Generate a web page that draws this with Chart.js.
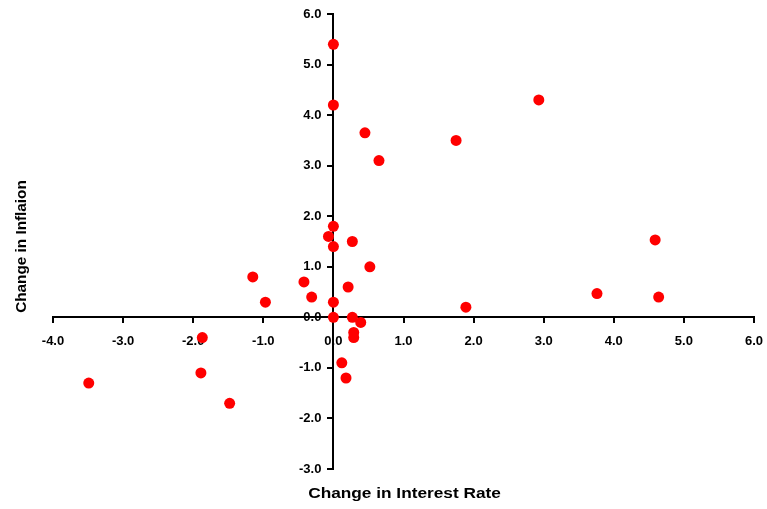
<!DOCTYPE html>
<html>
<head>
<meta charset="utf-8">
<script src="https://cdn.jsdelivr.net/npm/chart.js@4.4.1/dist/chart.umd.min.js"></script>
<style>
  html, body { margin: 0; padding: 0; background: #fff; }
  #wrap { width: 767px; height: 509px; position: relative; }
</style>
</head>
<body>
<div id="wrap"><canvas id="scatterChart"></canvas></div>
<script>
// change in interest rate (x) and change in inflation (y)
const rateChange = [0, 0, 0.45, 0.65, 0, -0.07, 0, 0.27, 2.93, 1.75, 4.59,
    -1.15, -0.42, -0.31, -0.97, 0, 0.52, 0.21, 0, 0.27, 0.39, 0.29, 0.29,
    -1.87, 0.12, 0.18, -3.49, -1.89, -1.48, 1.89, 3.76, 4.64];
const inflationChange = [5.4, 4.2, 3.65, 3.1, 1.8, 1.6, 1.4, 1.5, 4.3, 3.5, 1.53,
    0.8, 0.7, 0.4, 0.3, 0.3, 1.0, 0.6, 0.0, 0.0, -0.1, -0.3, -0.4,
    -0.4, -0.9, -1.2, -1.3, -1.1, -1.7, 0.2, 0.47, 0.4];
const xTitle = 'Change in Interest Rate';
const yTitle = 'Change in Inflaion';

const points = rateChange.map(function (x, i) {
    return { x: x, y: inflationChange[i] };
});

const FONT = '"Liberation Sans", Arial, sans-serif';

// titles at the canvas edges, and the y tick labels left of the crossing axis
// (Chart.js puts them right on the axis line when the axis sits at x = 0)
const axisText = {
    id: 'axisText',
    afterDraw: function (chart) {
        const ctx = chart.ctx;
        const area = chart.chartArea;
        const xScale = chart.scales.x;
        const yScale = chart.scales.y;
        ctx.save();
        ctx.fillStyle = '#000';

        ctx.font = 'bold 13px ' + FONT;
        ctx.textAlign = 'right';
        ctx.textBaseline = 'middle';
        const axisX = xScale.getPixelForValue(0);
        yScale.ticks.forEach(function (tick) {
            ctx.fillText(tick.value.toFixed(1), axisX - 12, yScale.getPixelForValue(tick.value));
        });

        ctx.font = 'bold 15px ' + FONT;
        ctx.textAlign = 'center';

        ctx.save();
        ctx.translate((area.left + area.right) / 2 + 1, 494);
        ctx.scale(1.15, 1);
        ctx.fillText(xTitle, 0, 0);
        ctx.restore();

        ctx.save();
        ctx.translate(22, (area.top + area.bottom) / 2 + 5);
        ctx.rotate(-Math.PI / 2);
        ctx.scale(1.02, 1);
        ctx.fillText(yTitle, 0, 0);
        ctx.restore();

        ctx.restore();
    }
};

const ctx = document.getElementById('scatterChart').getContext('2d');
new Chart(ctx, {
    type: 'scatter',
    data: {
        datasets: [{
            data: points,
            backgroundColor: '#ff0000',
            borderWidth: 0,
            pointRadius: 5.5,
            pointHoverRadius: 5.5
        }]
    },
    options: {
        responsive: true,
        maintainAspectRatio: false,
        animation: false,
        layout: { padding: { left: 53, right: 13, top: 14, bottom: 40 } },
        plugins: {
            legend: { display: false },
            tooltip: { enabled: false }
        },
        scales: {
            x: {
                type: 'linear',
                position: { y: 0 },
                min: -4,
                max: 6,
                // the label padding would otherwise squeeze the plot on the right
                afterFit: function (scale) {
                    scale.paddingLeft = 0;
                    scale.paddingRight = 0;
                },
                border: { display: true, color: '#000', width: 2 },
                grid: { display: true, drawOnChartArea: false, drawTicks: true, tickLength: 5, color: '#000', lineWidth: 2 },
                ticks: {
                    stepSize: 1,
                    padding: 11,
                    color: '#000',
                    font: { family: FONT, size: 13, weight: 'bold' },
                    callback: function (value) { return value.toFixed(1); }
                }
            },
            y: {
                type: 'linear',
                position: { x: 0 },
                min: -3,
                max: 6,
                border: { display: true, color: '#000', width: 2 },
                grid: { display: true, drawOnChartArea: false, drawTicks: true, tickLength: 5, color: '#000', lineWidth: 2 },
                ticks: {
                    display: false,
                    stepSize: 1
                }
            }
        }
    },
    plugins: [axisText]
});
</script>
</body>
</html>
